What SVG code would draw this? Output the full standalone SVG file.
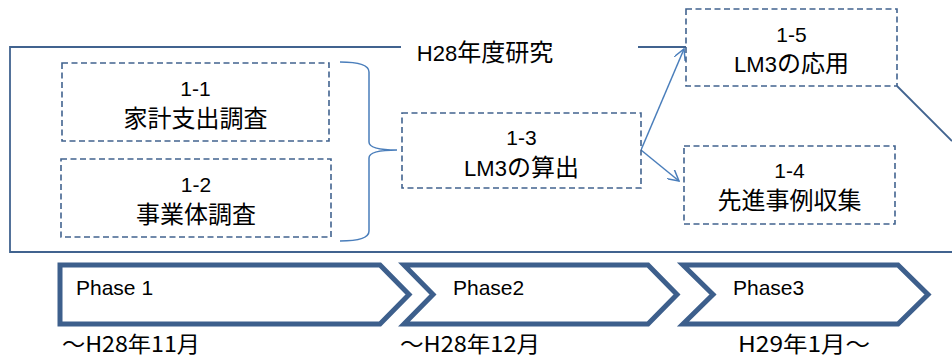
<svg xmlns="http://www.w3.org/2000/svg" width="952" height="360" viewBox="0 0 952 360">
<style>
.box{fill:#ffffff;stroke:#41638F;stroke-width:1.6;stroke-dasharray:6 3.5}
.frame{fill:none;stroke:#41638F;stroke-width:1.8}
.conn{fill:none;stroke:#4A7EBB;stroke-width:1.5}
.chev{fill:#ffffff;stroke:#3D5F8C;stroke-width:5;stroke-linejoin:miter}
.t{font-family:"Liberation Sans","Noto Sans CJK JP",sans-serif;fill:#000000;text-anchor:middle}
.num{font-size:21px}
.jp{font-size:24px;font-family:"Noto Sans CJK JP",sans-serif}
.lat{font-family:"Liberation Sans",sans-serif;font-size:22px}
.ph{font-family:"Liberation Sans",sans-serif;font-size:21px;fill:#000000}
.date{font-family:"Noto Sans CJK JP",sans-serif;font-size:22px;fill:#000000}
</style>
<defs>
<marker id="arr" viewBox="0 0 12 12" refX="11" refY="6" markerWidth="12" markerHeight="12" markerUnits="userSpaceOnUse" orient="auto">
<path d="M0,0 L11,6 L0,12" fill="none" stroke="#4A7EBB" stroke-width="1.5"/>
</marker>
</defs>
<rect width="952" height="360" fill="#ffffff"/>
<g id="frame">
<path class="frame" d="M401,47 L10,47 L10,252 L952,252"/>
<path class="frame" d="M638,47 L686,47"/>
<path class="frame" d="M897,86 L952,141"/>
<text class="t" x="485" y="61"><tspan class="lat">H28</tspan><tspan class="jp">年度研究</tspan></text>
</g>
<g id="connectors">
<path class="conn" d="M340,62 Q369,62 369,72 L369,142 Q369,150 397,150 Q369,150 369,158 L369,231 Q369,241 340,241"/>
<path class="conn" d="M641,150 L684,49" marker-end="url(#arr)"/>
<path class="conn" d="M641,150 L679,181" marker-end="url(#arr)"/>
</g>
<g id="n1-1">
<rect class="box" x="62" y="63" width="267" height="78"/>
<text class="t num" x="195.5" y="96">1-1</text>
<text class="t jp" x="195.5" y="127">家計支出調査</text>
</g>
<g id="n1-2">
<rect class="box" x="61" y="159" width="270" height="78"/>
<text class="t num" x="196" y="192">1-2</text>
<text class="t jp" x="196" y="223">事業体調査</text>
</g>
<g id="n1-3">
<rect class="box" x="402" y="113" width="239" height="75"/>
<text class="t num" x="521.5" y="145">1-3</text>
<text class="t" x="521.5" y="176"><tspan class="lat">LM3</tspan><tspan class="jp">の算出</tspan></text>
</g>
<g id="n1-5">
<rect class="box" x="686" y="9" width="211" height="77"/>
<text class="t num" x="791.5" y="42">1-5</text>
<text class="t" x="791.5" y="72"><tspan class="lat">LM3</tspan><tspan class="jp">の応用</tspan></text>
</g>
<g id="n1-4">
<rect class="box" x="684" y="146" width="211" height="78"/>
<text class="t num" x="789.5" y="178">1-4</text>
<text class="t jp" x="789.5" y="209">先進事例収集</text>
</g>
<g id="phase1">
<path class="chev" d="M60,265 L380,265 L409,294.5 L380,324 L60,324 Z"/>
<text class="ph" x="76" y="295">Phase 1</text>
<text class="date" x="62" y="352" textLength="138" lengthAdjust="spacingAndGlyphs">～H28年11月</text>
</g>
<g id="phase2">
<path class="chev" d="M404,265 L648,265 L677,294.5 L648,324 L404,324 L433,294.5 Z"/>
<text class="ph" x="453" y="295">Phase2</text>
<text class="date" x="400" y="352" textLength="140" lengthAdjust="spacingAndGlyphs">～H28年12月</text>
</g>
<g id="phase3">
<path class="chev" d="M683,265 L898,265 L928,294.5 L898,324 L683,324 L713,294.5 Z"/>
<text class="ph" x="733" y="295">Phase3</text>
<text class="date" x="738" y="352" textLength="132" lengthAdjust="spacingAndGlyphs">H29年1月～</text>
</g>
</svg>
